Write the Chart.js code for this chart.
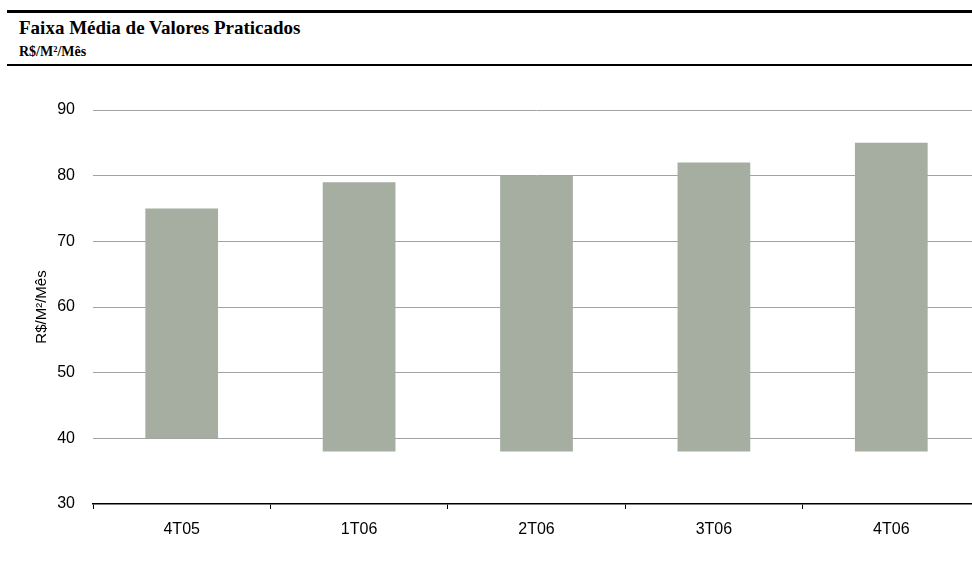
<!DOCTYPE html>
<html lang="pt-BR">
<head>
<meta charset="utf-8">
<title>Faixa Média de Valores Praticados</title>
<script src="https://cdn.jsdelivr.net/npm/chart.js@4/dist/chart.umd.min.js"></script>
<style>
    html, body { margin: 0; padding: 0; background: #fff; overflow: hidden; width: 972px; height: 563px; }
    .rule-top { position: absolute; left: 7px; right: 0; top: 10px; height: 0; border-top: 3px solid #000; }
    .rule-bottom { position: absolute; left: 7px; right: 0; top: 64px; height: 0; border-top: 2px solid #000; }
    .title { position: absolute; left: 19px; top: 18px; line-height: 1; font: bold 19px/1 "Liberation Serif", "Times New Roman", serif; color: #000; }
    .subtitle { position: absolute; left: 19px; top: 45px; font: bold 14px/1 "Liberation Serif", "Times New Roman", serif; color: #000; }
    .chart-box { position: absolute; left: 0; top: 70px; width: 980px; height: 493px; }
</style>
</head>
<body>
<div class="rule-top"></div>
<div class="title">Faixa Média de Valores Praticados</div>
<div class="subtitle">R$/M²/Mês</div>
<div class="rule-bottom"></div>
<div class="chart-box"><canvas id="faixaChart"></canvas></div>

<script>
// Trimestres e faixa (mínimo / máximo) em R$/M²/Mês
const trimestres = ['4T05', '1T06', '2T06', '3T06', '4T06'];
const valorMinimo = [40, 38, 38, 38, 38];
const valorMaximo = [75, 79, 80, 82, 85];
const ticksY = [30, 40, 50, 60, 70, 80, 90];

document.addEventListener("DOMContentLoaded", () => {
    const faixas = trimestres.map((t, i) => [valorMinimo[i], valorMaximo[i]]);
    const fonte = { family: 'Liberation Sans, Arial, sans-serif', size: 16 };

    const ctx = document.getElementById('faixaChart').getContext('2d');
    new Chart(ctx, {
        type: 'bar',
        data: {
            labels: trimestres,
            datasets: [{
                label: 'Faixa',
                data: faixas,
                backgroundColor: '#a6ada1',
                borderWidth: 0,
                borderSkipped: false,
                categoryPercentage: 1,
                barPercentage: 0.41
            }]
        },
        options: {
            responsive: true,
            maintainAspectRatio: false,
            animation: false,
            layout: { padding: { top: 40, right: 0, left: 0, bottom: 0 } },
            plugins: {
                legend: { display: false },
                tooltip: { enabled: false }
            },
            scales: {
                x: {
                    offset: true,
                    grid: {
                        offset: true,
                        drawOnChartArea: false,
                        drawTicks: true,
                        tickLength: 5,
                        color: '#000'
                    },
                    border: { display: true, color: '#000', width: 1.5 },
                    ticks: { color: '#000', font: fonte, padding: 11 },
                    afterFit: (scale) => { scale.height = 59; }
                },
                y: {
                    min: 30,
                    max: 90,
                    afterBuildTicks: (scale) => {
                        scale.ticks = ticksY.map(v => ({ value: v }));
                    },
                    grid: {
                        drawTicks: false,
                        color: (c) => c.tick && c.tick.value === 30 ? 'rgba(0,0,0,0)' : '#a3a3a3',
                        lineWidth: 1
                    },
                    border: { display: false },
                    ticks: { color: '#000', font: fonte, padding: 18 },
                    title: {
                        display: true,
                        text: 'R$/M²/Mês',
                        color: '#000',
                        font: { family: 'Liberation Sans, Arial, sans-serif', size: 15 },
                        padding: { top: 33, bottom: 0 }
                    },
                    afterFit: (scale) => { scale.width = 93; }
                }
            }
        }
    });
});
</script>
</body>
</html>
